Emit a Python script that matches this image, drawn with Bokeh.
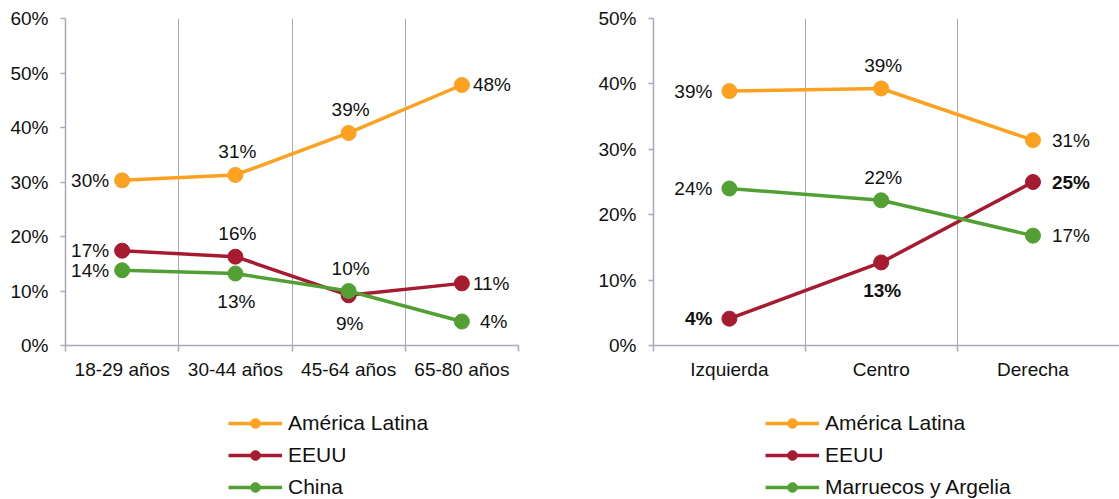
from bokeh.plotting import figure
from bokeh.layouts import row, column
from bokeh.models import (Range1d, FixedTicker, PrintfTickFormatter, Legend, LegendItem,
                          ColumnDataSource)
from bokeh.core.properties import value
from bokeh.embed import file_html
from bokeh.resources import INLINE

# ---------------- data ----------------
age_groups = ["18-29 años", "30-44 años", "45-64 años", "65-80 años"]
age_latam = [30.3, 31.3, 39.0, 47.8]
age_eeuu = [17.4, 16.3, 9.2, 11.4]
age_china = [13.8, 13.2, 10.0, 4.4]

ideology = ["Izquierda", "Centro", "Derecha"]
ideo_latam = [38.9, 39.3, 31.4]
ideo_eeuu = [4.1, 12.7, 25.0]
ideo_magreb = [24.0, 22.2, 16.8]

left_series = ["América Latina", "EEUU", "China"]
right_series = ["América Latina", "EEUU", "Marruecos y Argelia"]

# ---------------- styles ----------------
ORANGE = "#FDA121"
RED = "#A61B30"
GREEN = "#52A033"
COLORS = [ORANGE, RED, GREEN]
GRAY = "#A9A9BC"
FONT = "Liberation Sans"
TXT = "#111111"

left_label_pos = [["left", "above", "above", "right"],
                  ["left", "above", "below", "right"],
                  ["left", "below", "above", "right_far"]]
right_label_pos = [["left", "above", "right"],
                   ["left", "below", "right"],
                   ["left", "above", "right"]]


def make_panel(cats, series_vals, label_pos, bold_flags, ymax, width,
               border_left, border_right, x_end, grid_ticks, cat_ticks,
               left_dx, right_dx):
    n = len(cats)
    p = figure(width=width, height=390, output_backend="svg", toolbar_location=None,
               x_range=Range1d(0, x_end), y_range=Range1d(0, ymax),
               min_border_left=border_left, min_border_right=border_right,
               min_border_top=18, min_border_bottom=45)
    p.outline_line_color = None
    p.background_fill_color = "white"
    p.border_fill_color = "white"
    p.ygrid.grid_line_color = None
    p.xgrid.ticker = FixedTicker(ticks=grid_ticks)
    p.xgrid.grid_line_color = GRAY
    p.xgrid.grid_line_width = 1

    centers = [i + 0.5 for i in range(n)]
    p.xaxis.ticker = FixedTicker(ticks=centers, minor_ticks=cat_ticks)
    p.xaxis.major_label_overrides = {c: lab for c, lab in zip(centers, cats)}
    p.xaxis.major_tick_line_color = None
    p.xaxis.major_tick_out = 0
    p.xaxis.major_tick_in = 0
    p.xaxis.minor_tick_line_color = GRAY
    p.xaxis.minor_tick_line_width = 1.5
    p.xaxis.minor_tick_out = 6
    p.xaxis.minor_tick_in = 0
    p.xaxis.axis_line_color = GRAY
    p.xaxis.axis_line_width = 1.5
    p.xaxis.major_label_standoff = 7
    p.xaxis.major_label_text_font = FONT
    p.xaxis.major_label_text_font_size = "19px"
    p.xaxis.major_label_text_color = TXT

    p.yaxis.ticker = FixedTicker(ticks=list(range(0, ymax + 1, 10)))
    p.yaxis.formatter = PrintfTickFormatter(format="%d%%")
    p.yaxis.axis_line_color = GRAY
    p.yaxis.axis_line_width = 1.5
    p.yaxis.major_tick_line_color = GRAY
    p.yaxis.major_tick_line_width = 1.5
    p.yaxis.major_tick_out = 5
    p.yaxis.major_tick_in = 0
    p.yaxis.minor_tick_line_color = None
    p.yaxis.major_label_standoff = 12
    p.yaxis.major_label_text_font = FONT
    p.yaxis.major_label_text_font_size = "19px"
    p.yaxis.major_label_text_color = TXT

    for vals, col in zip(series_vals, COLORS):
        src = ColumnDataSource(dict(x=centers, y=vals))
        p.line("x", "y", source=src, line_color=col, line_width=3.5)
        p.scatter("x", "y", source=src, size=15, fill_color=col, line_color=col)

    for s, vals in enumerate(series_vals):
        for i, v in enumerate(vals):
            pos = label_pos[s][i]
            if pos == "left":
                align, dx, dy = "right", -left_dx, 0
            elif pos == "right":
                align, dx, dy = "left", right_dx, 0
            elif pos == "right_far":
                align, dx, dy = "left", right_dx + 7, 0
            elif pos == "above":
                align, dx, dy = "center", 2, -23
            else:
                align, dx, dy = "center", 1, 28
            p.text(x=[centers[i]], y=[v], text=[f"{round(v)}%"],
                   x_offset=dx, y_offset=dy, text_align=align, text_baseline="middle",
                   text_font=value(FONT), text_font_size="19px", text_color=TXT,
                   text_font_style="bold" if bold_flags[s] else "normal")
    return p


def make_legend(names, width, x_loc):
    lf = figure(width=width, height=109, output_backend="svg", toolbar_location=None,
                x_range=Range1d(0, 1), y_range=Range1d(0, 1),
                x_axis_location=None, y_axis_location=None,
                min_border=0)
    lf.outline_line_color = None
    lf.xgrid.grid_line_color = None
    lf.ygrid.grid_line_color = None
    items = []
    for name, col in zip(names, COLORS):
        src = ColumnDataSource(dict(x=[-5, -4], y=[-5, -5]))
        ln = lf.line("x", "y", source=src, line_color=col, line_width=3.5)
        sc = lf.scatter("x", "y", source=src, size=15, fill_color=col, line_color=col)
        items.append(LegendItem(label=name, renderers=[ln, sc]))
    leg = Legend(items=items, location=(x_loc, 0), orientation="vertical")
    leg.glyph_width = 54
    leg.glyph_height = 24
    leg.label_height = 24
    leg.label_standoff = 6
    leg.spacing = 8
    leg.padding = 0
    leg.margin = 0
    leg.border_line_color = None
    leg.background_fill_alpha = 0
    leg.label_text_font = FONT
    leg.label_text_font_size = "21px"
    leg.label_text_color = TXT
    leg.label_text_baseline = "middle"
    lf.add_layout(leg, "center")
    return lf


p1 = make_panel(age_groups, [age_latam, age_eeuu, age_china],
                left_label_pos, [False, False, False], 60, 580, 65, 62, 4,
                [1, 2, 3, 4], [0, 1, 2, 3, 4], 13, 11)
p2 = make_panel(ideology, [ideo_latam, ideo_eeuu, ideo_magreb],
                right_label_pos, [False, True, False], 50, 539, 73, 0, 3.07,
                [1, 2], [0, 1, 2], 17, 19)
l1 = make_legend(left_series, 580, 163)
l2 = make_legend(right_series, 539, 112)

layout = row(column(p1, l1, spacing=0), column(p2, l2, spacing=0), spacing=0)
open("out.html", "w").write(file_html(layout, INLINE))
